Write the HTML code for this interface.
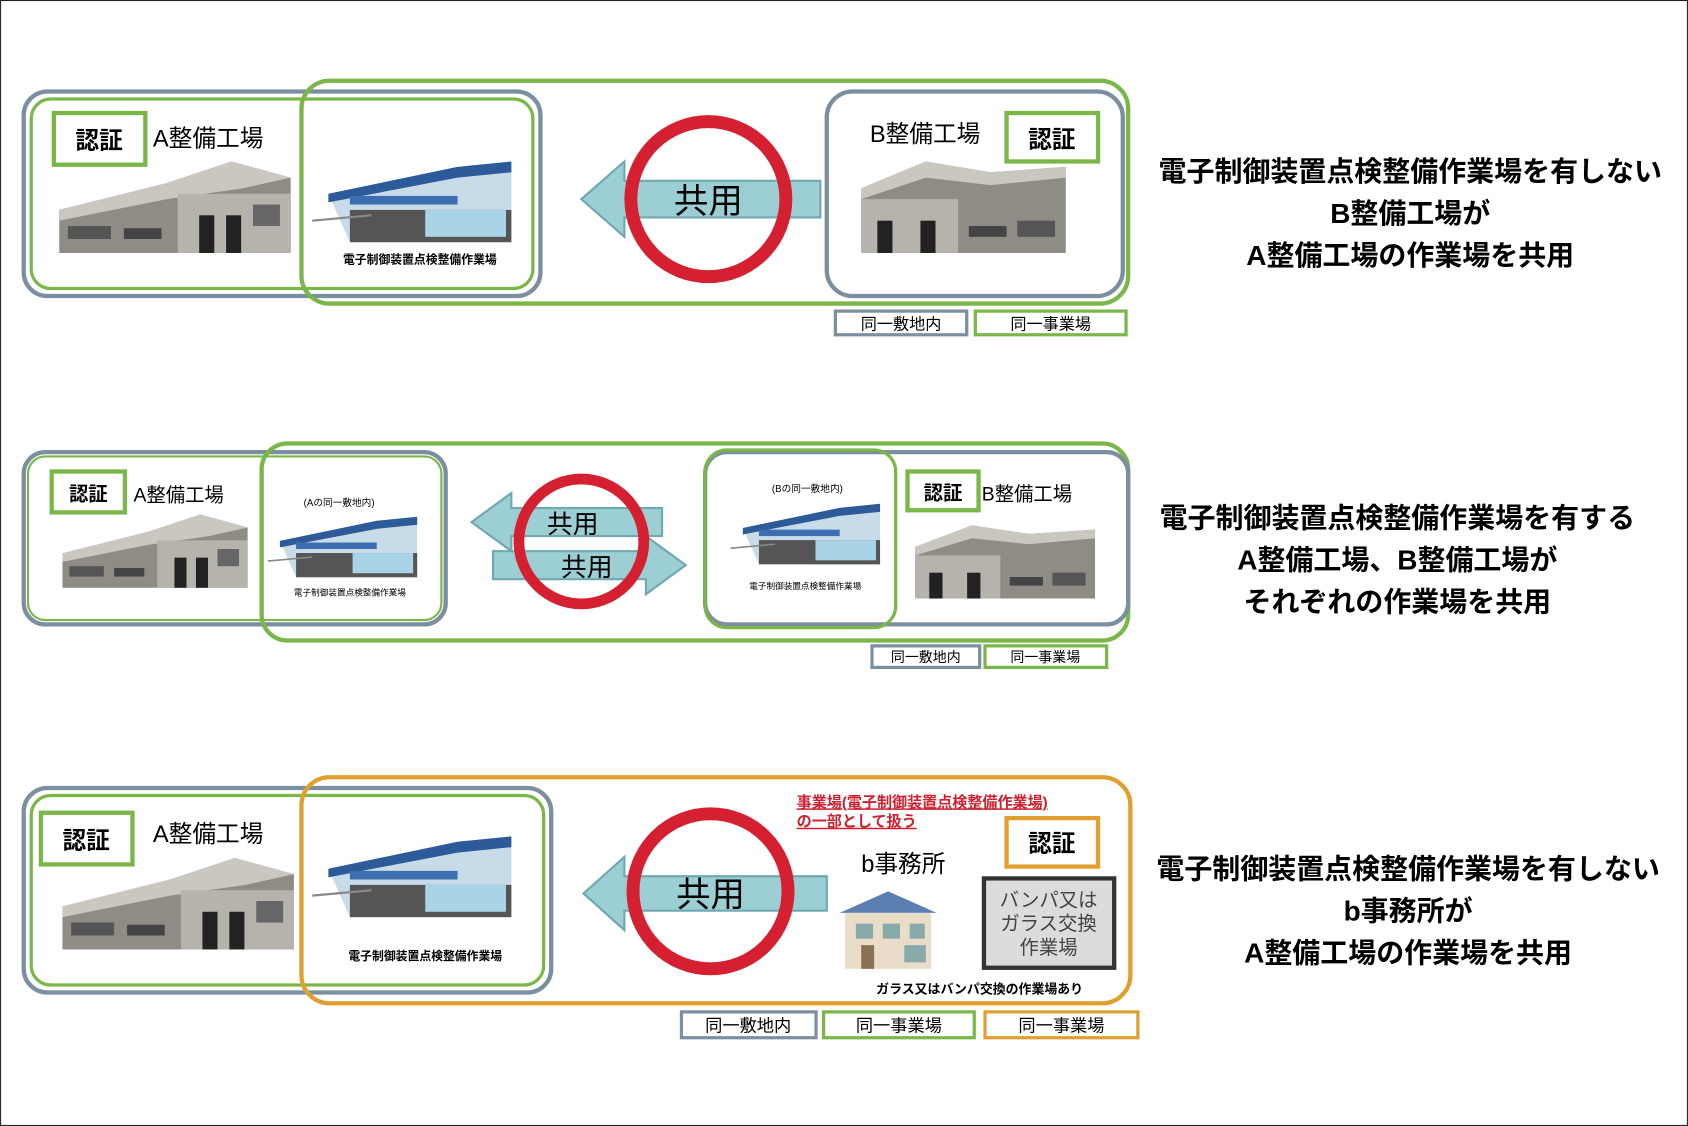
<!DOCTYPE html>
<html><head><meta charset="utf-8"><style>
html,body{margin:0;padding:0;background:#fff}
svg{display:block}
text{font-family:"Liberation Sans","Noto Sans CJK JP",sans-serif}
.b{font-weight:bold}
</style></head><body>
<svg width="1688" height="1126" viewBox="0 0 1568 1046" xmlns="http://www.w3.org/2000/svg">
<defs>
<g id="bldA">
  <polygon points="0,45 100,20 160,0 215,15 215,85 0,85" fill="#8e8c84"/>
  <polygon points="0,45 100,20 160,0 215,15 170,25 100,35 0,55" fill="#c9c7bf"/>
  <rect x="110" y="30" width="105" height="55" fill="#b5b3ab"/>
  <rect x="8" y="60" width="40" height="12" fill="#555"/>
  <rect x="60" y="62" width="35" height="10" fill="#444"/>
  <rect x="130" y="50" width="14" height="35" fill="#222"/>
  <rect x="155" y="50" width="14" height="35" fill="#222"/>
  <rect x="180" y="40" width="25" height="20" fill="#666"/>
</g>
<g id="bldBlue">
  <polygon points="0,30 120,5 170,0 170,75 20,75" fill="#c8dbe8"/>
  <polygon points="0,30 120,5 170,0 170,10 120,15 0,38" fill="#2d5a98"/>
  <rect x="20" y="45" width="150" height="30" fill="#555"/>
  <rect x="90" y="45" width="75" height="25" fill="#a9d4e6"/>
  <rect x="20" y="32" width="100" height="8" fill="#3d6fb0"/>
  <line x1="-15" y1="55" x2="40" y2="50" stroke="#888" stroke-width="2"/>
</g>
<g id="bldB">
  <polygon points="0,25 60,0 120,10 190,5 190,85 0,85" fill="#8e8c84"/>
  <polygon points="0,25 60,0 120,10 190,5 190,15 120,22 60,15 0,35" fill="#c9c7bf"/>
  <rect x="0" y="35" width="90" height="50" fill="#b5b3ab"/>
  <rect x="15" y="55" width="14" height="30" fill="#222"/>
  <rect x="55" y="55" width="14" height="30" fill="#222"/>
  <rect x="100" y="60" width="35" height="10" fill="#444"/>
  <rect x="145" y="55" width="35" height="15" fill="#555"/>
</g>
</defs>
<rect x="0.5" y="0.5" width="1567" height="1045" fill="#fff" stroke="#222" stroke-width="1"/>

<!-- Panel 1 -->
<rect x="22" y="85" width="480" height="190" rx="22" fill="none" stroke="#7b8fa0" stroke-width="4"/>
<rect x="29" y="92" width="466" height="176" rx="18" fill="none" stroke="#7ab648" stroke-width="3"/>
<rect x="280" y="75" width="768" height="207" rx="26" fill="none" stroke="#7ab648" stroke-width="4"/>
<rect x="768" y="85" width="275" height="190" rx="24" fill="none" stroke="#7b8fa0" stroke-width="4"/>
<rect x="50" y="105" width="85" height="48" fill="#fff" stroke="#7ab648" stroke-width="4"/>
<text x="92" y="138" font-size="22" text-anchor="middle" class="b">認証</text>
<text x="142" y="136" font-size="22">A整備工場</text>
<use href="#bldA" x="55" y="150"/>
<use href="#bldBlue" x="305" y="150"/>
<text x="390" y="245" font-size="11" text-anchor="middle" class="b">電子制御装置点検整備作業場</text>
<polygon points="762,168 580,168 580,150 540,185 580,220 580,202 762,202" fill="#9ccfd4" stroke="#70a8b0" stroke-width="2"/>
<circle cx="658" cy="185" r="72" fill="none" stroke="#d42030" stroke-width="12"/>
<text x="658" y="198" font-size="32" text-anchor="middle">共用</text>
<text x="808" y="132" font-size="22">B整備工場</text>
<rect x="935" y="105" width="85" height="45" fill="#fff" stroke="#7ab648" stroke-width="4"/>
<text x="977" y="137" font-size="22" text-anchor="middle" class="b">認証</text>
<use href="#bldB" x="800" y="150"/>
<rect x="776" y="289" width="122" height="22" fill="#fff" stroke="#7b8fa0" stroke-width="3"/>
<text x="837" y="306" font-size="15" text-anchor="middle">同一敷地内</text>
<rect x="906" y="289" width="140" height="22" fill="#fff" stroke="#7ab648" stroke-width="3"/>
<text x="976" y="306" font-size="15" text-anchor="middle">同一事業場</text>
<g font-size="26" class="b" text-anchor="middle">
<text x="1310" y="168">電子制御装置点検整備作業場を有しない</text>
<text x="1310" y="207">B整備工場が</text>
<text x="1310" y="246">A整備工場の作業場を共用</text>
</g>

<!-- Panel 2 -->
<rect x="22" y="420" width="392" height="160" rx="20" fill="none" stroke="#7b8fa0" stroke-width="4"/>
<rect x="26" y="424" width="384" height="152" rx="16" fill="none" stroke="#7ab648" stroke-width="2"/>
<rect x="243" y="412" width="805" height="183" rx="24" fill="none" stroke="#7ab648" stroke-width="4"/>
<rect x="655" y="420" width="393" height="160" rx="20" fill="none" stroke="#7b8fa0" stroke-width="4"/>
<rect x="655" y="418" width="177" height="165" rx="20" fill="none" stroke="#7ab648" stroke-width="3"/>
<rect x="48" y="438" width="68" height="38" fill="#fff" stroke="#7ab648" stroke-width="4"/>
<text x="82" y="465" font-size="18" text-anchor="middle" class="b">認証</text>
<text x="124" y="466" font-size="18">A整備工場</text>
<g transform="translate(58,478) scale(0.8,0.8)"><use href="#bldA"/></g>
<text x="315" y="470" font-size="9" text-anchor="middle">(Aの同一敷地内)</text>
<g transform="translate(260,480) scale(0.75)"><use href="#bldBlue"/></g>
<text x="325" y="553" font-size="8" text-anchor="middle">電子制御装置点検整備作業場</text>
<polygon points="615,472 475,472 475,458 438,485 475,512 475,498 615,498" fill="#9ccfd4" stroke="#70a8b0" stroke-width="2"/>
<polygon points="458,512 600,512 600,498 637,525 600,552 600,538 458,538" fill="#9ccfd4" stroke="#70a8b0" stroke-width="2"/>
<circle cx="540" cy="503" r="58" fill="none" stroke="#d42030" stroke-width="10"/>
<text x="532" y="495" font-size="24" text-anchor="middle">共用</text>
<text x="545" y="535" font-size="24" text-anchor="middle">共用</text>
<text x="750" y="457" font-size="9" text-anchor="middle">(Bの同一敷地内)</text>
<g transform="translate(690,468) scale(0.75)"><use href="#bldBlue"/></g>
<text x="748" y="547" font-size="8" text-anchor="middle">電子制御装置点検整備作業場</text>
<rect x="843" y="438" width="66" height="36" fill="#fff" stroke="#7ab648" stroke-width="4"/>
<text x="876" y="464" font-size="18" text-anchor="middle" class="b">認証</text>
<text x="912" y="465" font-size="18">B整備工場</text>
<g transform="translate(850,488) scale(0.88,0.8)"><use href="#bldB"/></g>
<rect x="810" y="600" width="100" height="20" fill="#fff" stroke="#7b8fa0" stroke-width="3"/>
<text x="860" y="615" font-size="13" text-anchor="middle">同一敷地内</text>
<rect x="915" y="600" width="113" height="20" fill="#fff" stroke="#7ab648" stroke-width="3"/>
<text x="971" y="615" font-size="13" text-anchor="middle">同一事業場</text>
<g font-size="26" class="b" text-anchor="middle">
<text x="1298" y="490">電子制御装置点検整備作業場を有する</text>
<text x="1298" y="529">A整備工場、B整備工場が</text>
<text x="1298" y="568">それぞれの作業場を共用</text>
</g>

<!-- Panel 3 -->
<rect x="22" y="732" width="490" height="190" rx="22" fill="none" stroke="#7b8fa0" stroke-width="4"/>
<rect x="29" y="739" width="476" height="176" rx="18" fill="none" stroke="#7ab648" stroke-width="3"/>
<rect x="280" y="722" width="770" height="210" rx="26" fill="none" stroke="#e0a030" stroke-width="4"/>
<rect x="38" y="755" width="85" height="48" fill="#fff" stroke="#7ab648" stroke-width="4"/>
<text x="80" y="788" font-size="22" text-anchor="middle" class="b">認証</text>
<text x="142" y="782" font-size="22">A整備工場</text>
<use href="#bldA" x="58" y="797"/>
<use href="#bldBlue" x="305" y="777"/>
<text x="395" y="892" font-size="11" text-anchor="middle" class="b">電子制御装置点検整備作業場</text>
<polygon points="768,814 580,814 580,796 542,830 580,864 580,846 768,846" fill="#9ccfd4" stroke="#70a8b0" stroke-width="2"/>
<circle cx="660" cy="828" r="72" fill="none" stroke="#d42030" stroke-width="12"/>
<text x="660" y="842" font-size="32" text-anchor="middle">共用</text>
<text x="740" y="750" font-size="14" fill="#d02030" class="b" text-decoration="underline">事業場(電子制御装置点検整備作業場)</text>
<text x="740" y="768" font-size="14" fill="#d02030" class="b" text-decoration="underline">の一部として扱う</text>
<text x="800" y="810" font-size="22">b事務所</text>
<polygon points="780,848 825,828 870,848" fill="#5a7fb0"/>
<rect x="785" y="848" width="80" height="52" fill="#e9dcc8"/>
<rect x="795" y="858" width="16" height="14" fill="#8aa"/>
<rect x="820" y="858" width="16" height="14" fill="#8aa"/>
<rect x="845" y="858" width="14" height="14" fill="#8aa"/>
<rect x="800" y="878" width="12" height="22" fill="#8a7055"/>
<rect x="840" y="878" width="20" height="16" fill="#8aa"/>
<rect x="935" y="760" width="85" height="45" fill="#fff" stroke="#e0a030" stroke-width="4"/>
<text x="977" y="791" font-size="22" text-anchor="middle" class="b">認証</text>
<rect x="914" y="816" width="121" height="83" fill="#dcdcdc" stroke="#333" stroke-width="4"/>
<g font-size="18" fill="#444" text-anchor="middle">
<text x="974" y="842">バンパ又は</text>
<text x="974" y="864">ガラス交換</text>
<text x="974" y="886">作業場</text>
</g>
<text x="910" y="923" font-size="12" text-anchor="middle" class="b">ガラス又はバンパ交換の作業場あり</text>
<rect x="633" y="940" width="125" height="24" fill="#fff" stroke="#7b8fa0" stroke-width="3"/>
<text x="695" y="958" font-size="16" text-anchor="middle">同一敷地内</text>
<rect x="765" y="940" width="140" height="24" fill="#fff" stroke="#7ab648" stroke-width="3"/>
<text x="835" y="958" font-size="16" text-anchor="middle">同一事業場</text>
<rect x="915" y="940" width="142" height="24" fill="#fff" stroke="#e0a030" stroke-width="3"/>
<text x="986" y="958" font-size="16" text-anchor="middle">同一事業場</text>
<g font-size="26" class="b" text-anchor="middle">
<text x="1308" y="816">電子制御装置点検整備作業場を有しない</text>
<text x="1308" y="855">b事務所が</text>
<text x="1308" y="894">A整備工場の作業場を共用</text>
</g>
</svg>
</body></html>
